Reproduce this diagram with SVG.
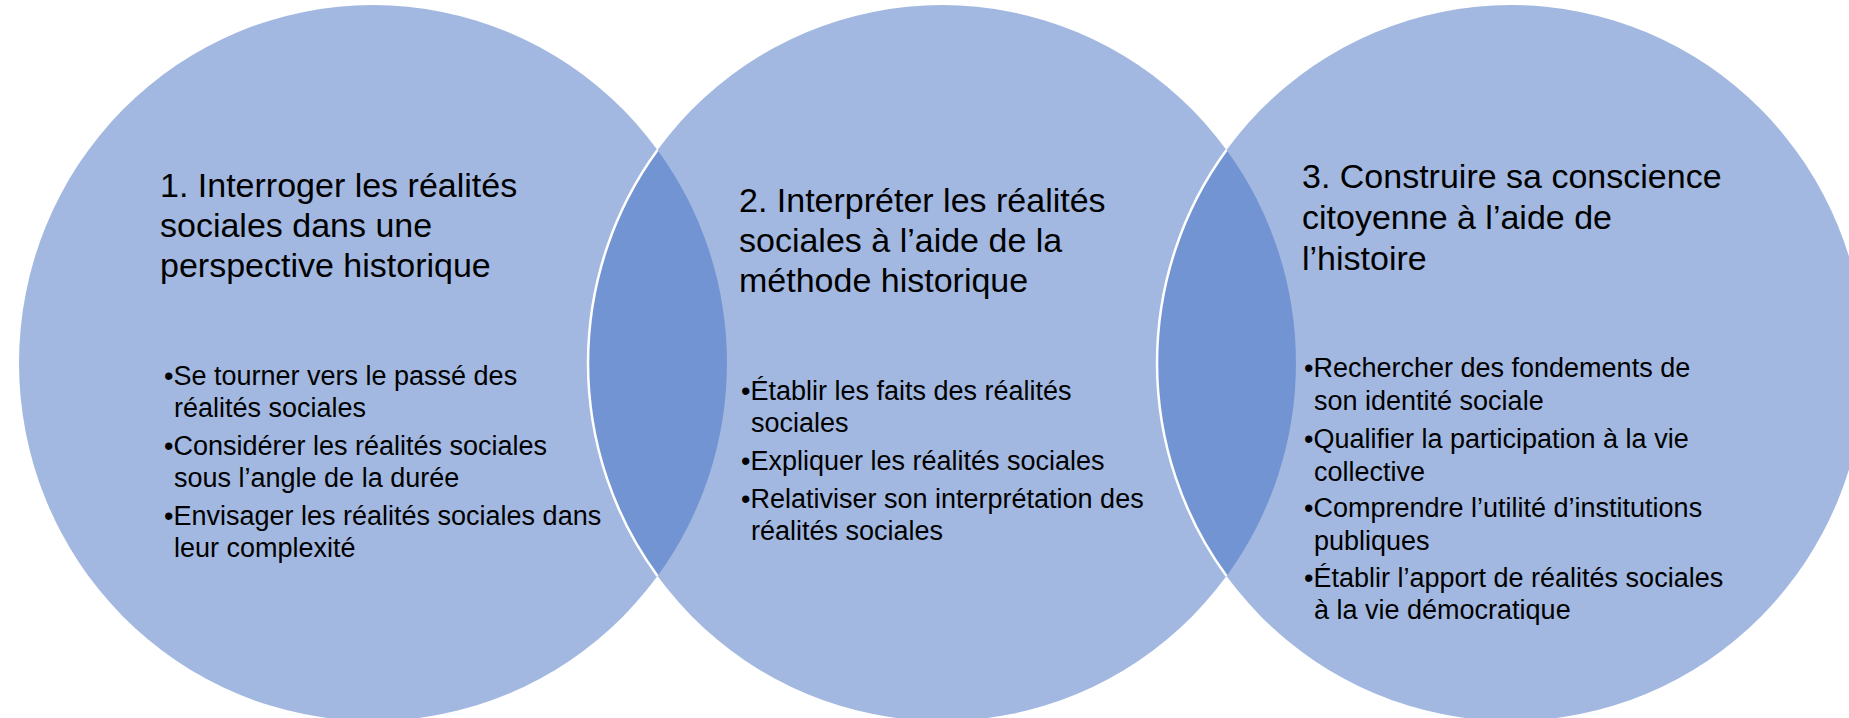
<svg xmlns="http://www.w3.org/2000/svg" width="1849" height="718" viewBox="0 0 1849 718">
<style>
.c{fill:#A2B8E0}
.lens{fill:#7294D3}
.edge{fill:none;stroke:#FFFFFF;stroke-width:2.5}
.t{font-family:"Liberation Sans",Arial,sans-serif;font-size:34px;fill:#000}
.b{font-family:"Liberation Sans",Arial,sans-serif;font-size:27px;fill:#000}
</style>
<rect width="1849" height="718" fill="#FFFFFF"/>
<g id="circle1">
<ellipse class="c" cx="373" cy="363" rx="354" ry="358"/>
</g>
<g id="circle2">
<ellipse class="c" cx="942" cy="363" rx="354" ry="358"/>
</g>
<g id="circle3">
<ellipse class="c" cx="1511" cy="363" rx="354" ry="358"/>
</g>
<g id="overlaps">
<path class="lens" d="M657.5 150 A354 358 0 0 1 657.5 576 A354 358 0 0 1 657.5 150 Z"/>
<path class="lens" d="M1226.5 150 A354 358 0 0 1 1226.5 576 A354 358 0 0 1 1226.5 150 Z"/>
<path class="edge" d="M657.5 150 A354 358 0 0 0 657.5 576"/>
<path class="edge" d="M1226.5 150 A354 358 0 0 0 1226.5 576"/>
</g>
<g id="text1">
<text class="t" x="160" y="197">1. Interroger les réalités</text>
<text class="t" x="160" y="237">sociales dans une</text>
<text class="t" x="160" y="277">perspective historique</text>
<text class="b" x="164" y="385">•Se tourner vers le passé des</text>
<text class="b" x="174" y="417">réalités sociales</text>
<text class="b" x="164" y="455">•Considérer les réalités sociales</text>
<text class="b" x="174" y="487">sous l’angle de la durée</text>
<text class="b" x="164" y="525">•Envisager les réalités sociales dans</text>
<text class="b" x="174" y="557">leur complexité</text>
</g>
<g id="text2">
<text class="t" x="739" y="212">2. Interpréter les réalités</text>
<text class="t" x="739" y="252">sociales à l’aide de la</text>
<text class="t" x="739" y="292">méthode historique</text>
<text class="b" x="741" y="400">•Établir les faits des réalités</text>
<text class="b" x="751" y="432">sociales</text>
<text class="b" x="741" y="470">•Expliquer les réalités sociales</text>
<text class="b" x="741" y="508">•Relativiser son interprétation des</text>
<text class="b" x="751" y="540">réalités sociales</text>
</g>
<g id="text3">
<text class="t" x="1302" y="188">3. Construire sa conscience</text>
<text class="t" x="1302" y="229">citoyenne à l’aide de</text>
<text class="t" x="1302" y="270">l’histoire</text>
<text class="b" x="1304" y="377">•Rechercher des fondements de</text>
<text class="b" x="1314" y="410">son identité sociale</text>
<text class="b" x="1304" y="448">•Qualifier la participation à la vie</text>
<text class="b" x="1314" y="481">collective</text>
<text class="b" x="1304" y="517">•Comprendre l’utilité d’institutions</text>
<text class="b" x="1314" y="550">publiques</text>
<text class="b" x="1304" y="587">•Établir l’apport de réalités sociales</text>
<text class="b" x="1314" y="619">à la vie démocratique</text>
</g>
</svg>
